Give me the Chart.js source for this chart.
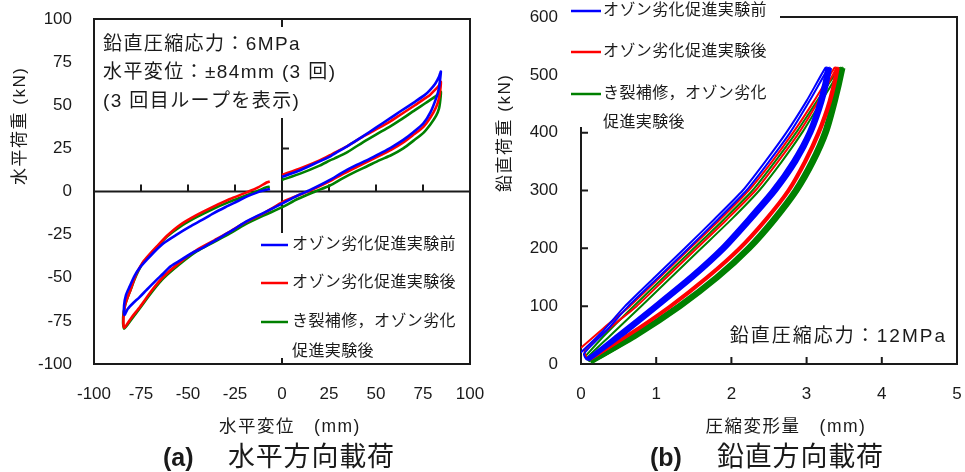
<!DOCTYPE html>
<html>
<head>
<meta charset="utf-8">
<script src="https://cdn.jsdelivr.net/npm/chart.js@4.4.1/dist/chart.umd.min.js"></script>
<style>
  html, body { margin: 0; padding: 0; background: #fff; }
  #wrap { position: relative; width: 965px; height: 472px; overflow: hidden; }
  #boxA { position: absolute; left: 0; top: 0; width: 500px; height: 472px; }
  #boxB { position: absolute; left: 480px; top: 0; width: 485px; height: 472px; }
</style>
</head>
<body>
<div id="wrap">
  <div id="boxB"><canvas id="chartB"></canvas></div>
  <div id="boxA"><canvas id="chartA"></canvas></div>
</div>
<script>
// ===== dados =====
const seriesLabels = [['オゾン劣化促進実験前'], ['オゾン劣化促進実験後'], ['き裂補修，オゾン劣化', '促進実験後']];
const seriesColors = ['#0000ff', '#ff0000', '#008000'];

// (a) 水平方向載荷 : [変位 mm, 荷重 kN]
const blueA = [
  [0,8.5],[10,12.5],[20,17.5],[25.5,20.2],[28,22],[35,26.5],[43,32],[50,37],[57.4,42.4],[63,46.5],[70.7,52],[76,56],[78.7,58.8],[81.5,62.5],[83.5,66.5],[84.5,69.5],
  [84,64],[83.5,60],[82.3,55],[79,46],[75.2,39.5],[70,34.5],[64.5,29.9],[58,25.5],[52,22],[45,18],[39.7,15.4],[32,11],[25.5,6.7],[15,0.9],[8,-2.5],[0,-7],
  [-10,-12.5],[-20,-18],[-26,-22.3],[-35,-28],[-42,-32.5],[-48,-35.8],[-55,-40.5],[-60,-44],[-63,-47.4],[-67,-51.5],[-72,-57],[-76,-61.5],[-79,-64.5],[-82,-68],[-83.8,-71.5],
  [-84,-66],[-83,-60],[-81,-55],[-78.5,-49],[-75.5,-44],[-72,-39.7],[-67.5,-34.5],[-63,-30],[-56,-25],[-49,-20.4],[-42.5,-16.5],[-36.5,-12.7],[-30,-9],[-24,-5.8],[-18.8,-3],[-13,-0.5],[-9,0.8],[-6.4,1.5]
];
const redA = [
  [0,9.6],[10,13.5],[20,18],[25.5,21],[28,22.5],[35,26.5],[43,31.8],[50,36],[57.4,40.5],[63,44.5],[70.7,50],[76,54],[78.7,56],[81.5,59],[83.5,61.5],[84.5,63.5],
  [84.2,59],[83.5,54],[82,49],[79,43],[75.2,37.5],[70,33],[64.5,28.5],[58,24.2],[52,20.8],[45,17],[39.7,14.2],[32,10],[25.5,6],[15,0.5],[8,-2.5],[0.7,-5.9],
  [-9.9,-12.7],[-20,-18.2],[-27.7,-23.3],[-36,-28.3],[-45.4,-33.9],[-54,-40.8],[-63.1,-49.4],[-69,-57],[-75.5,-66.8],[-80,-73],[-84,-79],
  [-84.3,-73],[-83.5,-66],[-82,-61],[-80.9,-58],[-79,-52],[-77.3,-47.4],[-74,-41],[-70.5,-36.5],[-66.7,-32],[-61,-25.5],[-54.3,-19.4],[-46,-14],[-36.5,-8.8],[-28,-4.5],[-18.8,-0.5],[-13,2.2],[-8.2,5.2],[-6.5,5.8]
];
const greenA = [
  [0,6.7],[10,10.5],[20,15],[25.5,18],[28,19.2],[35,23],[43,28.5],[50,33],[57.4,37.6],[63,41.5],[70.7,47.2],[76,51],[78.7,53],[81.5,55],[83.5,56.8],[84.5,57.8],
  [84.2,53],[83.5,48],[82,44],[79,39],[75.2,34],[70,29.5],[64.5,25],[58,21],[52,18.2],[45,14.5],[39.7,11.8],[32,7.5],[25.5,3.5],[17.6,0],[8,-4.5],[0.7,-8.8],
  [-9.9,-14],[-20,-19.3],[-27.7,-24.3],[-36,-29.2],[-45.4,-34.8],[-54,-41.8],[-63.1,-50.4],[-69,-58],[-75.5,-67.5],[-80,-74],[-84,-79.5],
  [-84.5,-73],[-83.5,-66],[-82,-61],[-80.9,-58],[-79,-52.5],[-77.3,-48],[-74,-41.5],[-70.5,-37],[-66.7,-32.5],[-61,-26],[-54.3,-20.5],[-46,-15.2],[-36.5,-10],[-28,-6],[-18.8,-2.2],[-13,0.3],[-8.2,2.5],[-6.5,2.8]
];

// (b) 鉛直方向載荷 : [圧縮変形量 mm, 鉛直荷重 kN], 2 ciclos por série
const blueB = [
  [0,20],[0.3,58],[0.585,100],[0.98,150],[1.38,200],[1.77,250],[2.15,300],[2.45,350],[2.73,400],[3.0,455],[3.25,512],
  [3.28,512],[3.18,455],[3.03,400],[2.82,350],[2.55,300],[2.22,250],[1.87,200],[1.45,150],[0.98,100],[0.5,50],[0.08,8],
  [0.04,18],[0.34,58],[0.63,100],[1.03,150],[1.43,200],[1.82,250],[2.2,300],[2.5,350],[2.78,400],[3.04,455],[3.29,512],
  [3.31,512],[3.21,455],[3.06,400],[2.86,350],[2.59,300],[2.26,250],[1.91,200],[1.49,150],[1.02,100],[0.54,50],[0.1,8]
];
const redB = [
  [0,28],[0.3,62],[0.65,100],[1.05,150],[1.45,200],[1.85,250],[2.23,300],[2.54,350],[2.82,400],[3.1,455],[3.37,512],
  [3.4,512],[3.3,455],[3.15,400],[2.97,350],[2.75,300],[2.45,250],[2.1,200],[1.67,150],[1.18,100],[0.62,50],[0.1,8],
  [0.05,24],[0.38,62],[0.74,100],[1.14,150],[1.54,200],[1.94,250],[2.32,300],[2.62,350],[2.9,400],[3.16,455],[3.4,512],
  [3.42,512],[3.32,455],[3.17,400],[2.99,350],[2.77,300],[2.47,250],[2.12,200],[1.69,150],[1.2,100],[0.64,50],[0.12,8]
];
const greenB = [
  [0.05,12],[0.3,48],[0.7,100],[1.1,150],[1.5,200],[1.9,250],[2.28,300],[2.58,350],[2.86,400],[3.14,455],[3.44,512],
  [3.46,512],[3.36,455],[3.24,400],[3.07,350],[2.85,300],[2.56,250],[2.22,200],[1.8,150],[1.3,100],[0.72,50],[0.12,5],
  [0.08,10],[0.38,48],[0.8,100],[1.2,150],[1.6,200],[2.0,250],[2.37,300],[2.67,350],[2.94,400],[3.2,455],[3.47,512],
  [3.48,512],[3.38,455],[3.26,400],[3.09,350],[2.87,300],[2.58,250],[2.24,200],[1.82,150],[1.32,100],[0.74,50],[0.14,5]
];

const notesA = ['鉛直圧縮応力：6MPa', '水平変位：±84mm (3 回)', '(3 回目ループを表示)'];
const noteB = '鉛直圧縮応力：12MPa';

const LATIN = "'Liberation Sans', Arial, sans-serif";
const JP = "'Liberation Sans', 'Noto Sans CJK JP', sans-serif";
const INK = '#1a1a1a';

const toXY = arr => arr.map(p => ({ x: p[0], y: p[1] }));

function txt(ctx, s, x, y, size, opts = {}) {
  ctx.save();
  ctx.font = (opts.bold ? 'bold ' : '') + size + 'px ' + (opts.family || JP);
  ctx.fillStyle = INK;
  ctx.textAlign = opts.align || 'left';
  ctx.textBaseline = 'middle';
  if ('letterSpacing' in ctx) ctx.letterSpacing = (opts.ls || 0) + 'px';
  if (opts.rot) { ctx.translate(x, y); ctx.rotate(opts.rot); ctx.fillText(s, 0, 0); }
  else ctx.fillText(s, x, y);
  ctx.restore();
}

function legenda(ctx, box, x1, x2, tx, ys, yExtra, size) {
  ctx.save();
  ctx.fillStyle = '#fff';
  ctx.fillRect(box[0], box[1], box[2], box[3]);
  ctx.lineWidth = 2.5;
  seriesLabels.forEach((lab, i) => {
    ctx.strokeStyle = seriesColors[i];
    ctx.beginPath(); ctx.moveTo(x1, ys[i]); ctx.lineTo(x2, ys[i]); ctx.stroke();
    txt(ctx, lab[0], tx, ys[i], size, { ls: 0.4 });
    if (lab[1]) txt(ctx, lab[1], tx, yExtra, size, { ls: 0.4 });
  });
  ctx.restore();
}

// eixos: marca de escala via tickLength (grid oculto), sem ticks.padding
function eixo(min, max, step, gap, fit) {
  return {
    type: 'linear', min, max,
    ticks: { stepSize: step, padding: 0, color: INK, font: { family: LATIN, size: 17 } },
    grid: { display: false, drawTicks: true, tickLength: gap },
    border: { display: false },
    afterFit: fit
  };
}

// ===== (a) =====
const pluginA = {
  id: 'quadroA',
  beforeDatasetsDraw(chart) {
    const { ctx, chartArea: a, scales: { x, y } } = chart;
    const x0 = x.getPixelForValue(0), y0 = y.getPixelForValue(0);
    ctx.save();
    ctx.strokeStyle = INK; ctx.lineWidth = 2;
    ctx.strokeRect(a.left, a.top, a.right - a.left, a.bottom - a.top);
    ctx.beginPath();
    ctx.moveTo(a.left, y0); ctx.lineTo(a.right, y0);
    ctx.moveTo(x0, a.top); ctx.lineTo(x0, a.bottom);
    x.ticks.forEach(t => {
      if (t.value === 0 || Math.abs(t.value) === 100) return;
      const px = x.getPixelForValue(t.value);
      ctx.moveTo(px, y0); ctx.lineTo(px, y0 - 7);
    });
    y.ticks.forEach(t => {
      if (t.value === 0 || Math.abs(t.value) === 100) return;
      const py = y.getPixelForValue(t.value);
      ctx.moveTo(x0, py); ctx.lineTo(x0 + 7, py);
    });
    ctx.stroke();
    ctx.restore();
  },
  afterDatasetsDraw(chart) {
    const { ctx } = chart;
    ctx.save();
    ctx.fillStyle = '#fff';
    ctx.fillRect(96, 27, 250, 91);
    ctx.restore();
    notesA.forEach((s, i) => txt(ctx, s, 103, 44.5 + i * 28.5, 19, { ls: 1.4 }));
    legenda(ctx, [252, 233, 216, 125], 261, 288, 292, [245, 283, 322], 352, 16);
    txt(ctx, '水平荷重 (kN)', 20, 185, 17, { rot: -Math.PI / 2, ls: 1.5 });
    txt(ctx, '水平変位　(mm)', 290, 427, 17.5, { align: 'center', ls: 1.5 });
    txt(ctx, '(a)', 163, 459, 25, { bold: true, family: LATIN });
    txt(ctx, '水平方向載荷', 228, 459, 27, { ls: 0.8 });
  }
};

new Chart(document.getElementById('chartA').getContext('2d'), {
  type: 'scatter',
  data: {
    datasets: [
      { label: seriesLabels[0].join(''), data: toXY(blueA), borderColor: seriesColors[0] },
      { label: seriesLabels[1].join(''), data: toXY(redA), borderColor: seriesColors[1] },
      { label: seriesLabels[2].join(''), data: toXY(greenA), borderColor: seriesColors[2] }
    ].map(d => Object.assign(d, { showLine: true, pointRadius: 0, borderWidth: 2.6, tension: 0.25, fill: false }))
  },
  options: {
    responsive: true, maintainAspectRatio: false, animation: false,
    layout: { padding: { top: 19, right: 30, bottom: 0, left: 0 } },
    plugins: { legend: { display: false }, tooltip: { enabled: false } },
    scales: {
      x: eixo(-100, 100, 25, 20, s => { s.height = 108; }),
      y: eixo(-100, 100, 25, 22, s => { s.width = 94; })
    }
  },
  plugins: [pluginA]
});

// ===== (b) =====
const pluginB = {
  id: 'quadroB',
  beforeDatasetsDraw(chart) {
    const { ctx, chartArea: a, scales: { x, y } } = chart;
    ctx.save();
    ctx.strokeStyle = INK; ctx.lineWidth = 2;
    ctx.strokeRect(a.left, a.top, a.right - a.left, a.bottom - a.top);
    ctx.beginPath();
    x.ticks.forEach(t => {
      if (t.value === 0 || t.value === 5) return;
      const px = x.getPixelForValue(t.value);
      ctx.moveTo(px, a.bottom); ctx.lineTo(px, a.bottom - 7);
    });
    y.ticks.forEach(t => {
      if (t.value === 0 || t.value === 600) return;
      const py = y.getPixelForValue(t.value);
      ctx.moveTo(a.left, py); ctx.lineTo(a.left + 7, py);
    });
    ctx.stroke();
    ctx.restore();
  },
  afterDatasetsDraw(chart) {
    const { ctx } = chart;
    legenda(ctx, [84, 0, 216, 127], 91, 121, 123, [11, 52, 94], 123, 16);
    txt(ctx, noteB, 467, 337, 19, { align: 'right', ls: 2 });
    txt(ctx, '鉛直荷重 (kN)', 25, 192, 17, { rot: -Math.PI / 2, ls: 1.5 });
    txt(ctx, '圧縮変形量　(mm)', 306, 427, 17.5, { align: 'center', ls: 1.5 });
    txt(ctx, '(b)', 170, 459, 25, { bold: true, family: LATIN });
    txt(ctx, '鉛直方向載荷', 237, 459, 27, { ls: 0.8 });
  }
};

const lowerW = [4.5, 3, 5.5];
new Chart(document.getElementById('chartB').getContext('2d'), {
  type: 'scatter',
  data: {
    datasets: [blueB, redB, greenB].map((arr, i) => ({
      label: seriesLabels[i].join(''),
      data: toXY(arr),
      borderColor: seriesColors[i],
      showLine: true, pointRadius: 0, borderWidth: 2, tension: 0.2, fill: false,
      segment: { borderWidth: c => (c.p1.parsed.y < c.p0.parsed.y ? lowerW[i] : 2) }
    }))
  },
  options: {
    responsive: true, maintainAspectRatio: false, animation: false,
    layout: { padding: { top: 17, right: 8, bottom: 0, left: 0 } },
    plugins: { legend: { display: false }, tooltip: { enabled: false } },
    scales: {
      x: eixo(0, 5, 1, 20, s => { s.height = 108; }),
      y: eixo(0, 600, 100, 23, s => { s.width = 101; })
    }
  },
  plugins: [pluginB]
});
</script>
</body>
</html>
